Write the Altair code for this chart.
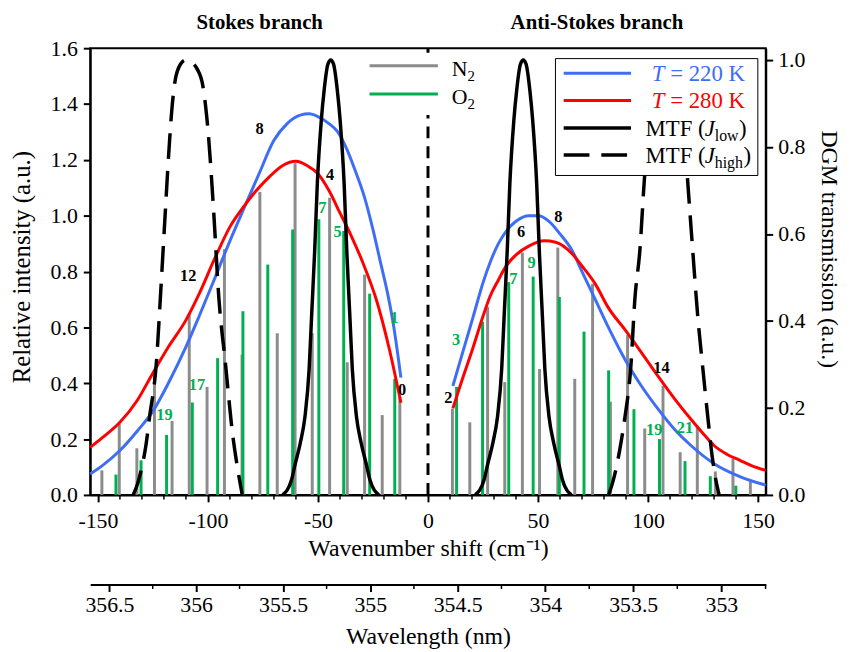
import altair as alt
import pandas as pd

FONT = "Liberation Serif, Times New Roman, serif"
GREY = "#8c8c8c"
GREEN = "#00b050"
BLUE = "#3d6ef5"
RED = "#ff0000"

# ---------------- stick spectra (wavenumber shift, relative intensity) ----------------
n2_stokes_x = [-12.8, -20.8, -28.8, -36.7, -44.7, -52.6, -60.4, -68.5, -76.4, -84.5, -92.5,
               -100.4, -108.5, -116.3, -124.3, -132.3, -140.3, -148.2]
n2_stokes_y = [0.35, 0.286, 0.789, 0.475, 1.064, 0.579, 1.188, 0.579, 1.085, 0.502, 0.88,
               0.387, 0.65, 0.265, 0.44, 0.167, 0.254, 0.088]
o2_stokes_x = [-15.1, -26.5, -38.3, -49.6, -61.5, -72.8, -84.1, -95.6, -107.1, -118.8, -130.4, -141.8]
o2_stokes_y = [0.416, 0.721, 0.945, 0.987, 0.951, 0.825, 0.658, 0.49, 0.331, 0.215, 0.124, 0.073]
n2_anti_x = [11.1, 19.0, 27.1, 34.9, 42.9, 50.7, 59.0, 66.7, 74.8, 82.9, 90.7, 98.5, 106.8,
             114.6, 122.4, 130.6, 138.6, 146.5]
n2_anti_y = [0.309, 0.26, 0.673, 0.404, 0.868, 0.451, 0.886, 0.416, 0.756, 0.334, 0.573, 0.238,
             0.39, 0.153, 0.248, 0.084, 0.129, 0.047]
o2_anti_x = [13.0, 24.8, 36.7, 47.8, 59.7, 70.9, 82.1, 93.6, 105.2, 116.8, 128.3, 139.9]
o2_anti_y = [0.387, 0.62, 0.762, 0.782, 0.709, 0.585, 0.446, 0.307, 0.2, 0.121, 0.067, 0.033]

# ---------------- envelopes ----------------
blue_s_x = [-153.5, -148, -140, -132, -125, -118, -110, -104, -97, -90, -84, -77, -70, -64, -58,
            -54, -50, -45, -41, -37, -33, -29, -25, -21.5, -18.3, -15.5, -12.3]
blue_s_y = [0.075, 0.105, 0.159, 0.23, 0.30, 0.40, 0.53, 0.64, 0.774, 0.91, 1.02, 1.146, 1.27,
            1.33, 1.36, 1.365, 1.355, 1.33, 1.30, 1.24, 1.16, 1.07, 0.95, 0.83, 0.72, 0.60, 0.42]
red_s_x = [-153.5, -148, -140, -132, -125, -118, -110, -104, -97, -90, -84, -78, -72, -66, -60,
           -55, -50, -45, -40, -35, -29.5, -23.5, -17.5, -12.3]
red_s_y = [0.17, 0.205, 0.26, 0.34, 0.437, 0.53, 0.626, 0.72, 0.845, 0.96, 1.03, 1.09, 1.14,
           1.18, 1.195, 1.18, 1.15, 1.09, 1.01, 0.93, 0.83, 0.70, 0.52, 0.33]
blue_a_x = [11.3, 15, 20.6, 25, 28.1, 32, 35.6, 40, 46, 50, 55, 60, 65.6, 70, 76, 82, 89.6, 97,
            104.6, 112, 119.5, 130, 142, 153.5]
blue_a_y = [0.39, 0.49, 0.64, 0.76, 0.83, 0.90, 0.945, 0.98, 1.0, 1.0, 0.98, 0.935, 0.874, 0.80,
            0.70, 0.60, 0.484, 0.39, 0.307, 0.235, 0.177, 0.112, 0.065, 0.035]
red_a_x = [11.3, 15, 20.6, 25, 28.1, 32, 35.6, 40, 46, 52.8, 58, 65.6, 70, 76, 82, 89.6, 97,
           104.6, 112, 119.5, 125, 130, 136, 142, 147, 153.5]
red_a_y = [0.31, 0.40, 0.531, 0.64, 0.709, 0.77, 0.821, 0.86, 0.892, 0.91, 0.905, 0.863, 0.82,
           0.756, 0.67, 0.591, 0.51, 0.425, 0.345, 0.271, 0.22, 0.177, 0.145, 0.123, 0.105, 0.088]

# ---------------- DGM transmission (MTF) ----------------
mtf_low_s_x = [-66, -62, -60.5, -58, -55.9, -54, -52.9, -51.5, -50.3, -48.5, -47.2, -45.5, -44.2,
               -42.9, -41.2, -39.9, -38.1, -36.9, -35.5, -34.4, -32.5, -30.4, -27.9, -26.4, -22.4]
mtf_low_s_y = [0, 0.035, 0.068, 0.12, 0.18, 0.29, 0.41, 0.56, 0.715, 0.86, 0.93, 0.99, 1.0,
               0.99, 0.93, 0.86, 0.715, 0.56, 0.41, 0.29, 0.18, 0.12, 0.068, 0.035, 0]
mtf_low_a_x = [21.5, 25.5, 27, 29.5, 31.6, 33.5, 34.6, 36, 37.2, 39, 40.3, 42, 43.3, 44.6, 46.3,
               47.6, 49.4, 50.6, 52, 53.1, 55, 57.1, 59.6, 61.1, 65.1]
mtf_low_a_y = [0, 0.035, 0.068, 0.12, 0.18, 0.29, 0.41, 0.56, 0.715, 0.86, 0.93, 0.99, 1.0,
               0.99, 0.93, 0.86, 0.715, 0.56, 0.41, 0.29, 0.18, 0.12, 0.068, 0.035, 0]
mtf_high_s_x = [-134, -132, -130.2, -128.3, -126.5, -123.5, -121.2, -119.5, -118, -116.5, -115,
                -112.5, -110, -107.5, -105, -102.3, -100, -97.5, -95, -92, -88.9, -86.5, -84.4]
mtf_high_s_y = [0, 0.025, 0.06, 0.11, 0.18, 0.30, 0.49, 0.64, 0.77, 0.88, 0.95, 0.99, 1.0,
                0.995, 0.98, 0.94, 0.84, 0.66, 0.45, 0.30, 0.144, 0.06, 0]
mtf_high_a_x = [82.1, 84, 85.8, 87.7, 89.6, 92.2, 94, 96.3, 98.4, 100.5, 103, 106, 108.5, 111,
                114, 116.5, 118.1, 120.3, 122.6, 124.8, 127.1, 129.3, 130.8, 132.3]
mtf_high_a_y = [0, 0.03, 0.068, 0.12, 0.182, 0.296, 0.449, 0.563, 0.73, 0.85, 0.94, 0.99, 1.0,
                0.99, 0.94, 0.83, 0.715, 0.563, 0.41, 0.296, 0.182, 0.083, 0.035, 0]

# ---------------- J labels ----------------
lab_black_t = ["8", "4", "12", "0", "2", "6", "8", "14"]
lab_black_x = [-76.5, -44.5, -109, -11.8, 9.3, 42.3, 59.2, 106.1]
lab_black_y = [1.311, 1.147, 0.785, 0.375, 0.348, 0.942, 0.995, 0.455]
lab_green_t = ["7", "5", "1", "17", "19", "3", "7", "9", "19", "21"]
lab_green_x = [-48, -41.1, -15.3, -105, -119.8, 12.8, 38.8, 47.1, 102.8, 116.8]
lab_green_y = [1.028, 0.94, 0.632, 0.392, 0.285, 0.553, 0.774, 0.829, 0.232, 0.239]

branch_t = ["Stokes branch", "Anti-Stokes branch"]
branch_x = [-76.5, 76.8]

# ---------------- axes ----------------
x_ticks = [-150, -100, -50, 0, 50, 100, 150]
x_minor = [-140, -130, -120, -110, -90, -80, -70, -60, -40, -30, -20, -10,
           10, 20, 30, 40, 60, 70, 80, 90, 110, 120, 130, 140]
y_ticks = [0, 0.2, 0.4, 0.6, 0.8, 1.0, 1.2, 1.4, 1.6]
y2_ticks = [0, 0.2, 0.4, 0.6, 0.8, 1.0]
wl_ticks = [356.5, 356, 355.5, 355, 354.5, 354, 353.5, 353]
wl_minor = [356.25, 355.75, 355.25, 354.75, 354.25, 353.75, 353.25, 352.75]
wl_domain = [356.611, 352.749]

W, H = 682, 451

x_scale = alt.Scale(domain=[-153.5, 153.5], nice=False, zero=False)
y_scale = alt.Scale(domain=[0, 1.6], nice=False, zero=False)
y2_scale = alt.Scale(domain=[0, 1.027], nice=False, zero=False)

x_axis = alt.Axis(values=x_ticks, labelExpr="'' + datum.value", title="Wavenumber shift (cm⁻¹)",
                  tickSize=7, labelPadding=9, titleY=54.5, titleBaseline="middle", grid=False,
                  labelFlush=False, labelOverlap=False)
y_axis = alt.Axis(values=y_ticks, format=".1f", title="Relative intensity (a.u.)", tickSize=7,
                  labelPadding=6, titleX=-69, titleY=220.5, titleBaseline="middle", grid=False,
                  labelFlush=False, labelOverlap=False, titleFontSize=25)
y2_axis = alt.Axis(orient="right", values=y2_ticks, format=".1f", title="DGM transmission (a.u.)",
                   tickSize=7, labelPadding=5, titleX=63, titleY=202.5, titleBaseline="middle",
                   grid=False, labelFlush=False, labelOverlap=False, titleFontSize=24)


def X():
    return alt.X("x:Q", scale=x_scale, axis=x_axis)


def Y(field="y"):
    return alt.Y(f"{field}:Q", scale=y_scale, axis=y_axis)


def sticks(xs, ys, color):
    df = pd.DataFrame({"x": xs, "y": ys, "base": [0.0] * len(xs)})
    return alt.Chart(df).mark_rule(color=color, strokeWidth=3).encode(x=X(), y=Y(), y2="base:Q")


def curves(parts, color):
    rows = []
    for name, xs, ys in parts:
        rows += [{"x": a, "y": b, "g": name} for a, b in zip(xs, ys)]
    return alt.Chart(pd.DataFrame(rows)).mark_line(
        color=color, strokeWidth=3, interpolate="monotone").encode(x=X(), y=Y(), detail="g:N")


def mtf(parts, dash):
    rows = []
    for name, xs, ys in parts:
        rows += [{"x": a, "t": b, "g": name} for a, b in zip(xs, ys)]
    kw = dict(color="black", strokeWidth=3.5, interpolate="monotone")
    if dash:
        kw["strokeDash"] = [26, 12]
    return alt.Chart(pd.DataFrame(rows)).mark_line(**kw).encode(
        x=X(), y=alt.Y("t:Q", scale=y2_scale, axis=y2_axis), detail="g:N")


one = pd.DataFrame({"k": [0]})


def txt(s, x, y, size, color="black", style="normal", weight="normal", align="left"):
    return alt.Chart(one).mark_text(text=s, font=FONT, fontSize=size, color=color, fontStyle=style,
                                    fontWeight=weight, align=align, baseline="alphabetic").encode(
        x=alt.value(x), y=alt.value(y))


def hline(x1, x2, y, color, dash=None, width=3):
    kw = dict(color=color, strokeWidth=width)
    if dash:
        kw["strokeDash"] = dash
    return alt.Chart(one).mark_rule(**kw).encode(x=alt.value(x1), x2=alt.value(x2), y=alt.value(y))


# ---------------- primary layer ----------------
zero_df = pd.DataFrame({"x": [0], "y": [0.0], "y2": [1.6]})
zero_line = alt.Chart(zero_df).mark_rule(color="black", strokeWidth=3, strokeDash=[12, 8]).encode(
    x=X(), y=Y(), y2="y2:Q")

minor_df = pd.DataFrame({"x": x_minor})
minor = alt.Chart(minor_df).mark_rule(color="black", strokeWidth=1.5).encode(
    x=X(), y=alt.value(H), y2=alt.value(H + 4.5))

lb = pd.DataFrame({"x": lab_black_x, "y": lab_black_y, "t": lab_black_t})
lg = pd.DataFrame({"x": lab_green_x, "y": lab_green_y, "t": lab_green_t})
labels_b = alt.Chart(lb).mark_text(font=FONT, fontSize=16.5, fontWeight="bold", color="black").encode(
    x=X(), y=Y(), text="t:N")
labels_g = alt.Chart(lg).mark_text(font=FONT, fontSize=16.5, fontWeight="bold", color=GREEN).encode(
    x=X(), y=Y(), text="t:N")

br = pd.DataFrame({"x": branch_x, "t": branch_t})
branches = alt.Chart(br).mark_text(font=FONT, fontSize=21, fontWeight="bold", color="black",
                                   baseline="middle").encode(x=X(), y=alt.value(-25.5), text="t:N")

primary = alt.layer(
    sticks(n2_stokes_x, n2_stokes_y, GREY),
    sticks(n2_anti_x, n2_anti_y, GREY),
    sticks(o2_stokes_x, o2_stokes_y, GREEN),
    sticks(o2_anti_x, o2_anti_y, GREEN),
    curves([("s", blue_s_x, blue_s_y), ("a", blue_a_x, blue_a_y)], BLUE),
    curves([("s", red_s_x, red_s_y), ("a", red_a_x, red_a_y)], RED),
    zero_line, minor, labels_b, labels_g, branches,
)

mtf_layer = alt.layer(
    mtf([("s", mtf_low_s_x, mtf_low_s_y), ("a", mtf_low_a_x, mtf_low_a_y)], False),
    mtf([("s", mtf_high_s_x, mtf_high_s_y), ("a", mtf_high_a_x, mtf_high_a_y)], True),
)

# ---------------- legends (pixel positions inside the plot) ----------------
box1 = alt.Chart(one).mark_rect(fill="white", stroke=None).encode(
    x=alt.value(270), x2=alt.value(400), y=alt.value(4.5), y2=alt.value(67.5))
box2 = alt.Chart(one).mark_rect(fill="white", stroke="black", strokeWidth=1).encode(
    x=alt.value(469.7), x2=alt.value(674), y=alt.value(10.5), y2=alt.value(128.5))

LF = 23
SF = 16
legend = alt.layer(
    box1,
    hline(282, 351, 17.8, GREY),
    hline(282, 351, 46.2, GREEN),
    txt("N", 365, 27.8, 22),
    txt("2", 381, 32.8, 15),
    txt("O", 365, 56.2, 22),
    txt("2", 381, 61.2, 15),
    box2,
    hline(478, 546, 25.2, BLUE),
    hline(478, 546, 52.8, RED),
    hline(478, 546, 80.5, "black", width=3.5),
    hline(478, 546, 107.8, "black", dash=[26, 12], width=3.5),
    txt("T", 567, 33, LF, BLUE, style="italic"),
    txt("= 220 K", 585.5, 33, LF, BLUE),
    txt("T", 567, 60.6, LF, RED, style="italic"),
    txt("= 280 K", 585.5, 60.6, LF, RED),
    txt("MTF (", 560.7, 88.3, LF),
    txt("J", 620.5, 88.3, LF, style="italic"),
    txt("low", 630.5, 93.3, SF),
    txt(")", 655, 88.3, LF),
    txt("MTF (", 560.7, 115.6, LF),
    txt("J", 620.5, 115.6, LF, style="italic"),
    txt("high", 630.5, 120.6, SF),
    txt(")", 659.5, 115.6, LF),
)

inner = alt.layer(primary, mtf_layer, legend).resolve_scale(y="independent")

# ---------------- wavelength axis ----------------
wl_df = pd.DataFrame({"w": wl_minor})
wave = alt.Chart(wl_df).mark_rule(color="black", strokeWidth=1.5).encode(
    x=alt.X("w:Q",
            scale=alt.Scale(type="pow", exponent=-1, domain=wl_domain, nice=False, zero=False),
            axis=alt.Axis(orient="bottom", offset=90.5, values=wl_ticks, labelExpr="'' + datum.value",
                          title="Wavelength (nm)", tickSize=7, labelPadding=3, titleY=53,
                          titleBaseline="middle", grid=False, labelFlush=False, labelOverlap=False)),
    y=alt.value(H + 90.5), y2=alt.value(H + 95))

chart = alt.layer(inner, wave).resolve_scale(x="independent", y="independent").properties(
    width=W, height=H,
    autosize=alt.AutoSizeParams(type="none"),
    padding={"left": 83, "top": 37.5, "right": 80, "bottom": 155.5},
).configure_axis(
    labelFont=FONT, titleFont=FONT, labelFontSize=22, titleFontSize=24, titleFontWeight="normal",
    labelColor="black", titleColor="black", domainColor="black", tickColor="black",
    domainWidth=2, tickWidth=2,
).configure_view(stroke="black", strokeWidth=2)

chart.save("out.html", embed_options={"renderer": "svg", "actions": False})
